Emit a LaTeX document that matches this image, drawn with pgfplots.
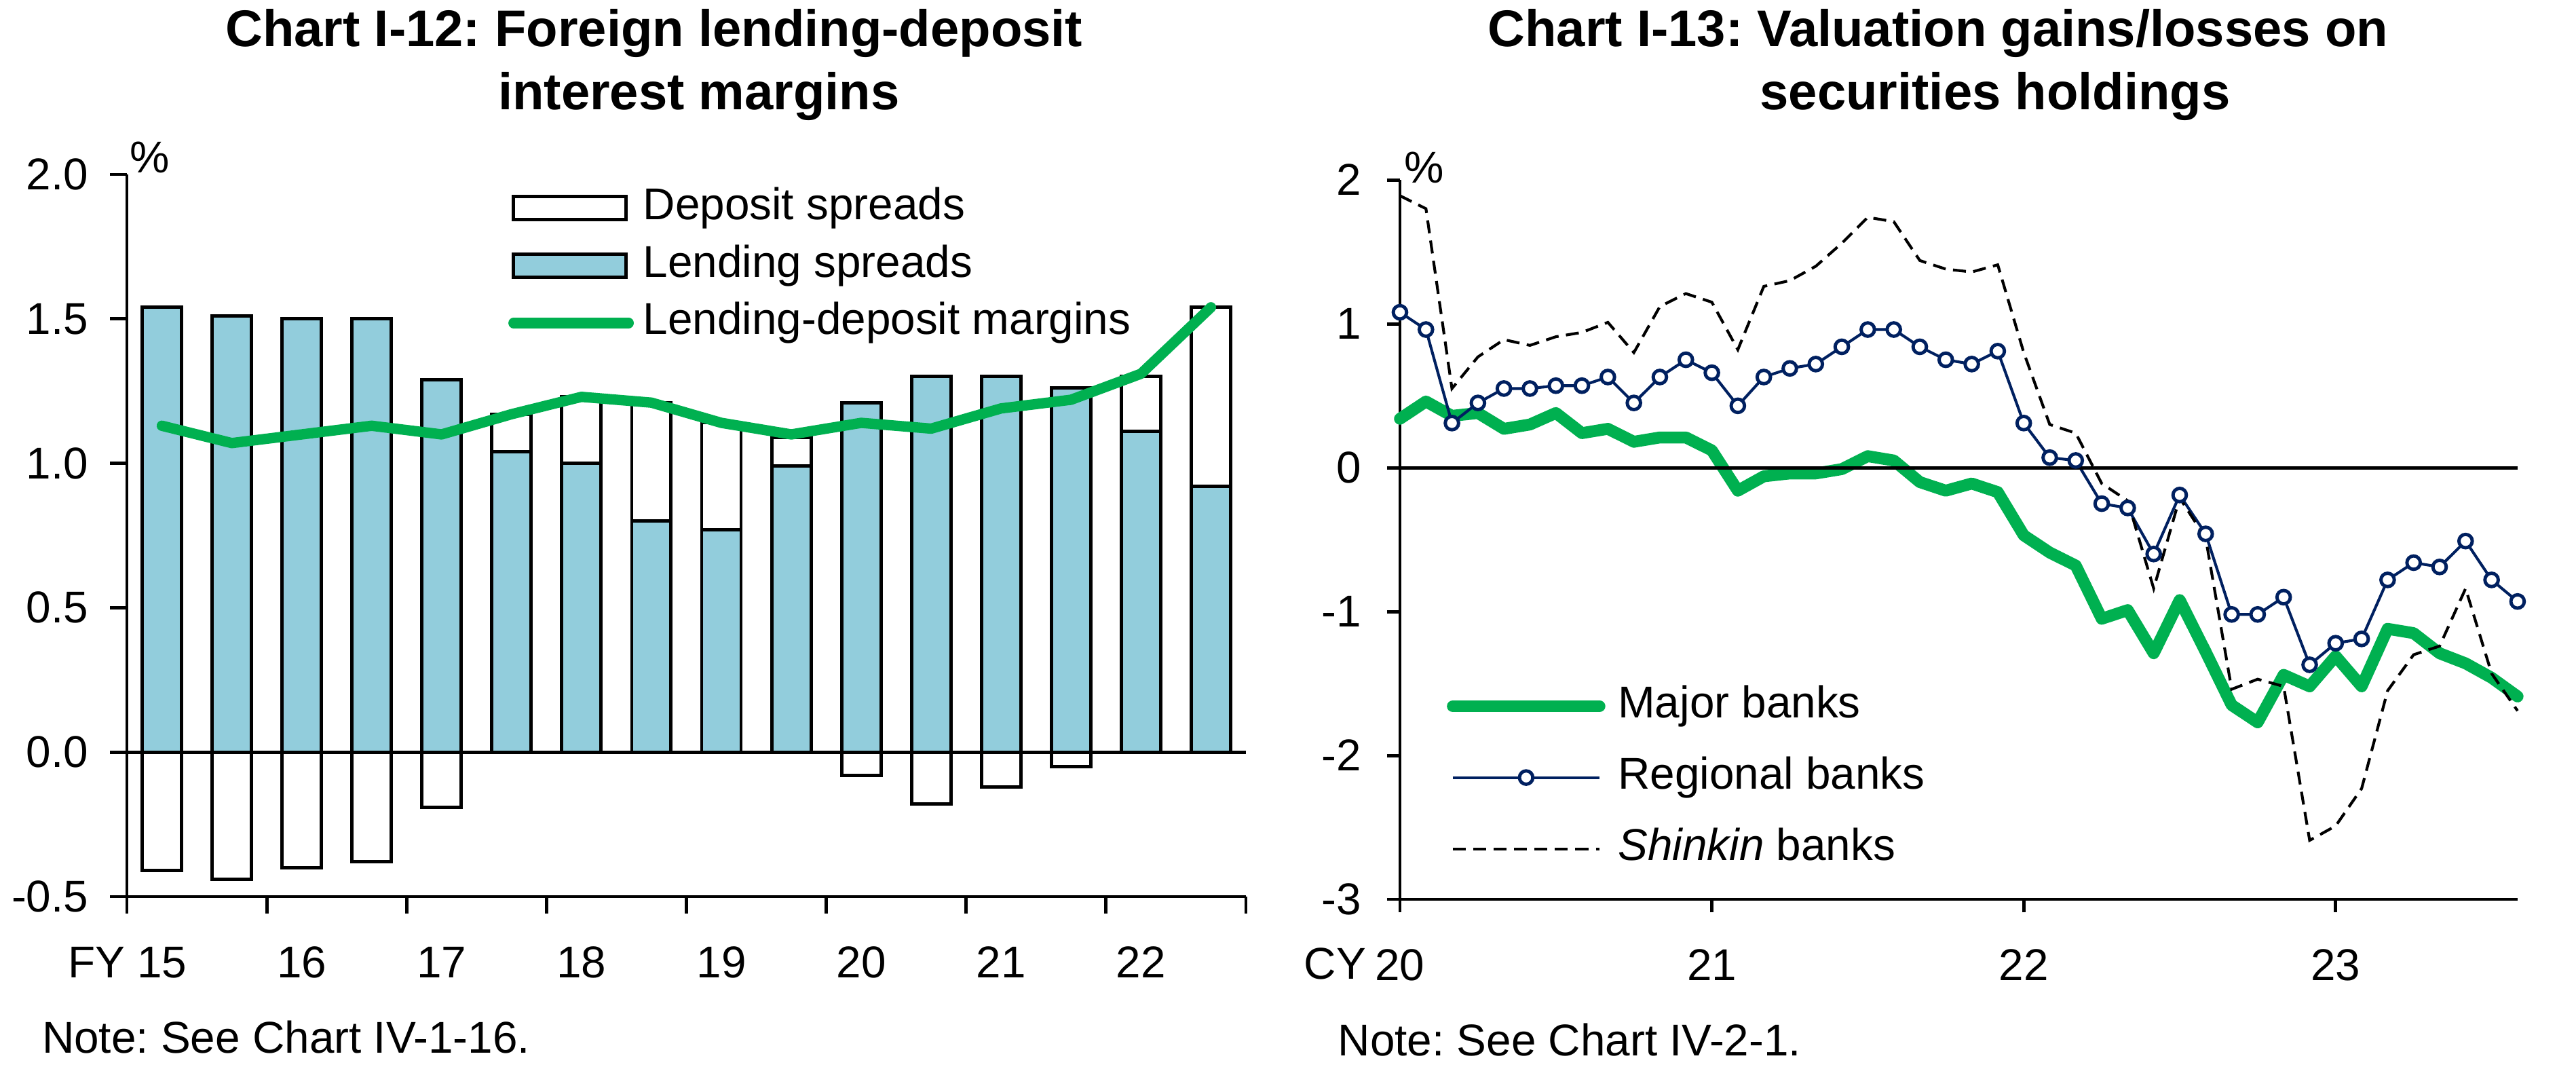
\documentclass[border=0pt]{standalone}
\usepackage{fontspec}
\setmainfont{Liberation Sans}
\usepackage{pgfplots}
\pgfplotsset{compat=1.18}
\frenchspacing
\definecolor{barblue}{HTML}{92CDDC}
\definecolor{mgreen}{HTML}{00B050}
\definecolor{navy}{HTML}{002060}
\newcommand{\fs}{\fontsize{12}{14}\selectfont}
\newcommand{\tfs}{\bfseries\fontsize{13.9}{16}\selectfont}
\pgfplotsset{
  common/.style={
    scale only axis,
    axis lines=left,
    axis line style={-, line width=0.9pt},
    tick style={black, line width=0.9pt},
    tick align=outside,
    ticklabel style={font=\fs, inner sep=0pt},
    clip=false,
    legend cell align=left,
  },
  barstyle/.style={ybar, bar width=10.6pt, bar shift=0pt, draw=black, line width=0.9pt,
    legend image code/.code={\draw[##1] (0pt,-3.1pt) rectangle (30.3pt,3.1pt); \path (33pt,0pt);}},
  greenlegL/.style={legend image code/.code={\draw[##1] (0pt,0pt) -- (31pt,0pt); \path (33.5pt,0pt);}},
  lineleg/.style={legend image code/.code={\draw[##1] (0pt,0pt) -- (39.5pt,0pt); \path (42.9pt,0pt);}},
  markleg/.style={legend image code/.code={\draw[mark repeat=2, mark phase=2, ##1] plot coordinates {(0pt,0pt) (19.75pt,0pt) (39.5pt,0pt)}; \path (42.9pt,0pt);}},
}
\begin{document}
\begin{tikzpicture}
\useasboundingbox (0,0) rectangle (694pt,-293.06pt);
% ---------------- left chart ----------------
\begin{axis}[common,
  at={(34.19pt,-241.5pt)}, anchor=south west,
  width=301.47pt, height=194.52pt,
  xmin=-0.5, xmax=15.5, ymin=-0.5, ymax=2,
  xtick={-0.5,1.5,3.5,5.5,7.5,9.5,11.5,13.5,15.5},
  xticklabels={15,16,17,18,19,20,21,22,{}},
  xticklabel style={anchor=base, xshift=9.42pt, yshift=-17.3pt},
  yticklabel style={anchor=east, xshift=-5.7pt},
  major tick length=4.5pt,
  ytick={-0.5,0,0.5,1,1.5,2},
  yticklabels={-0.5,0.0,0.5,1.0,1.5,2.0},
  legend style={at={(0.3409,0.9817)}, anchor=north west, draw=none, fill=none,
    inner sep=0pt, outer sep=0pt, row sep=4.35pt, column sep=0pt,
    nodes={inner sep=0pt, text height=8.6pt, text depth=2.5pt, font=\fs}},
]
\addplot[barstyle, fill=white] coordinates {(5,1.17) (6,1.23) (7,1.21) (8,1.14) (9,1.09) (14,1.30) (15,1.54)};
\addlegendentry{Deposit spreads}
\addplot[barstyle, fill=barblue] coordinates {(0,1.54) (1,1.51) (2,1.50) (3,1.50) (4,1.29) (5,1.04) (6,1.00) (7,0.80) (8,0.77) (9,0.99) (10,1.21) (11,1.30) (12,1.30) (13,1.26) (14,1.11) (15,0.92)};
\addlegendentry{Lending spreads}
\addplot[barstyle, fill=white, forget plot] coordinates {(0,-0.41) (1,-0.44) (2,-0.40) (3,-0.38) (4,-0.19) (10,-0.08) (11,-0.18) (12,-0.12) (13,-0.05)};
\addplot[black, line width=0.9pt, forget plot] coordinates {(-0.5,0) (15.5,0)};
\addplot[mgreen, line width=2.8pt, line join=round, line cap=round, greenlegL]
  coordinates {(0,1.13) (1,1.07) (2,1.10) (3,1.13) (4,1.10) (5,1.17) (6,1.23) (7,1.21) (8,1.14) (9,1.10) (10,1.14) (11,1.12) (12,1.19) (13,1.22) (14,1.31) (15,1.54)};
\addlegendentry{Lending-deposit margins}
\end{axis}
% ---------------- right chart ----------------
\begin{axis}[common,
  at={(377.16pt,-242.24pt)}, anchor=south west,
  width=301.1pt, height=193.79pt,
  xmin=0, xmax=43, ymin=-3, ymax=2,
  xtick={0,12,24,36},
  xticklabels={20,21,22,23},
  xticklabel style={anchor=base, yshift=-18.3pt},
  yticklabel style={anchor=east, xshift=-6.7pt},
  major tick length=3.5pt,
  ytick={-3,-2,-1,0,1,2},
  yticklabels={-3,-2,-1,0,1,2},
  legend style={at={(0.0420,0.297)}, anchor=north west, draw=none, fill=none,
    inner sep=0pt, outer sep=0pt, row sep=8.1pt, column sep=0pt,
    nodes={inner sep=0pt, text height=8.6pt, text depth=2.5pt, font=\fs}},
]
\addplot[mgreen, line width=3.2pt, line join=round, line cap=round, lineleg]
  coordinates {(0,0.34) (1,0.46) (2,0.36) (3,0.38) (4,0.27) (5,0.30) (6,0.38) (7,0.24) (8,0.27) (9,0.18) (10,0.21) (11,0.21) (12,0.12) (13,-0.16) (14,-0.06) (15,-0.04) (16,-0.04) (17,-0.01) (18,0.08) (19,0.05) (20,-0.10) (21,-0.16) (22,-0.11) (23,-0.17) (24,-0.47) (25,-0.59) (26,-0.68) (27,-1.05) (28,-0.99) (29,-1.29) (30,-0.92) (31,-1.28) (32,-1.65) (33,-1.77) (34,-1.44) (35,-1.52) (36,-1.31) (37,-1.52) (38,-1.12) (39,-1.15) (40,-1.29) (41,-1.36) (42,-1.46) (43,-1.59)};
\addlegendentry{Major banks}
\addplot[navy, line width=0.75pt, mark=*, mark size=1.8pt, mark options={fill=white, draw=navy, line width=0.9pt}, markleg]
  coordinates {(0,1.08) (1,0.96) (2,0.31) (3,0.45) (4,0.55) (5,0.55) (6,0.57) (7,0.57) (8,0.63) (9,0.45) (10,0.63) (11,0.75) (12,0.66) (13,0.43) (14,0.63) (15,0.69) (16,0.72) (17,0.84) (18,0.96) (19,0.96) (20,0.84) (21,0.75) (22,0.72) (23,0.81) (24,0.31) (25,0.07) (26,0.05) (27,-0.25) (28,-0.28) (29,-0.60) (30,-0.19) (31,-0.46) (32,-1.02) (33,-1.02) (34,-0.90) (35,-1.37) (36,-1.22) (37,-1.19) (38,-0.78) (39,-0.66) (40,-0.69) (41,-0.51) (42,-0.78) (43,-0.93)};
\addlegendentry{Regional banks}
\addplot[black, line width=0.75pt, dash pattern=on 3.5pt off 2pt, lineleg]
  coordinates {(0,1.89) (1,1.80) (2,0.55) (3,0.77) (4,0.89) (5,0.85) (6,0.91) (7,0.94) (8,1.01) (9,0.80) (10,1.12) (11,1.21) (12,1.15) (13,0.82) (14,1.26) (15,1.30) (16,1.40) (17,1.56) (18,1.74) (19,1.71) (20,1.44) (21,1.38) (22,1.36) (23,1.41) (24,0.80) (25,0.30) (26,0.24) (27,-0.11) (28,-0.23) (29,-0.84) (30,-0.21) (31,-0.49) (32,-1.54) (33,-1.47) (34,-1.52) (35,-2.59) (36,-2.49) (37,-2.23) (38,-1.55) (39,-1.30) (40,-1.24) (41,-0.84) (42,-1.43) (43,-1.69)};
\addlegendentry{\textit{Shinkin} banks}
\addplot[black, line width=0.9pt, forget plot] coordinates {(0,0) (43,0)};
\end{axis}
% ---------------- texts ----------------
\node[anchor=base, font=\tfs] at (176.2pt,-12.6pt) {Chart I-12: Foreign lending-deposit};
\node[anchor=base, font=\tfs] at (188.3pt,-29.6pt) {interest margins};
\node[anchor=base, font=\tfs] at (522.1pt,-12.6pt) {Chart I-13: Valuation gains/losses on};
\node[anchor=base, font=\tfs] at (537.5pt,-29.6pt) {securities holdings};
\node[anchor=base west, font=\fs, inner sep=0pt] at (34.9pt,-46.6pt) {\%};
\node[anchor=base west, font=\fs, inner sep=0pt] at (378.1pt,-49.2pt) {\%};
\node[anchor=base west, font=\fs, inner sep=0pt] at (18.1pt,-263.3pt) {FY};
\node[anchor=base east, font=\fs, inner sep=0pt] at (368.2pt,-263.8pt) {CY};
\node[anchor=base west, font=\fs, inner sep=0pt] at (11.15pt,-283.7pt) {Note: See Chart IV-1-16.};
\node[anchor=base west, font=\fs, inner sep=0pt] at (360.3pt,-284.3pt) {Note: See Chart IV-2-1.};
\end{tikzpicture}
\end{document}
